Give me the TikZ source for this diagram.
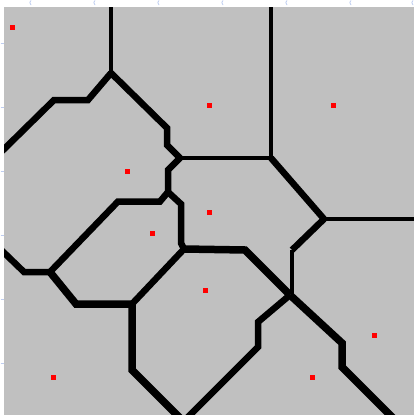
\documentclass[tikz,border=0pt]{standalone}
\definecolor{bggray}{RGB}{192,192,192}
\definecolor{tickblue}{RGB}{190,205,240}
\begin{document}
\begin{tikzpicture}[x=1pt,y=-1pt,
  edge/.style={draw=black,line width=6.5pt,line join=miter},
  thinedge/.style={draw=black,line width=4pt},
  thickedge/.style={draw=black,line width=7.5pt,line join=miter},
  site/.style={rectangle,fill=red,draw=none,minimum size=5pt,inner sep=0pt},
  tick/.style={draw=tickblue,line width=0.8pt}]
\useasboundingbox (0,0) rectangle (414,415);
\fill[white] (0,0) rectangle (414,415);
\fill[bggray] (4,7) rectangle (414,415);
% faint ticks
\foreach \yy in {43,107,171,235,299,363} \draw[tick] (0.5,\yy) -- (3.5,\yy);
\foreach \xx in {30,94,158,222,286,350,412} \draw[tick] (\xx+1,0.5) .. controls (\xx-0.5,2) .. (\xx+1,5);
\begin{scope}
\clip (4,7) rectangle (414,415);
% junction coordinates
\coordinate (J1) at (111,73);
\coordinate (J2) at (180,158);
\coordinate (J3) at (168,192);
\coordinate (J4) at (184,249);
\coordinate (J5) at (290,295);
\coordinate (J6) at (50,272);
\coordinate (J7) at (271,158);
\coordinate (J8) at (324,219);
\coordinate (J9) at (132,304);
% edges
\draw[thinedge] (111,0) -- (J1);
\draw[edge] (J1) -- (88,100) -- (54,100) -- (-6,159);
\draw[edge] (J1) -- (167,128) -- (167,145) -- (J2);
\draw[thinedge] (J2) -- (J7);
\draw[thinedge] (271,0) -- (J7);
\draw[edge] (J7) -- (J8);
\draw[thinedge] (J8) -- (420,219);
\draw[edge] (J8) -- (292,250);
\draw[thinedge] (292,250) -- (292,294);
\draw[edge] (J2) -- (168,170) -- (168,188) -- (J3);
\draw[edge] (J3) -- (160,201.5) -- (118,201.5) -- (J6);
\draw[edge] (J3) -- (181,204) -- (181,243) -- (J4);
\draw[thickedge] (J4) -- (245,250) -- (J5);
\draw[edge] (J4) -- (J9);
\draw[edge] (-6,243) -- (24,272) -- (J6);
\draw[thickedge] (J6) -- (76,304) -- (J9) -- (132,370) -- (182,420);
\draw[edge] (J5) -- (258,322) -- (258,347) -- (185,420);
\draw[thickedge] (J5) -- (342,343) -- (342,367) -- (395,420);
\end{scope}
% sites
\node[site] (s1) at (12,27) {};
\node[site] (s2) at (209,105) {};
\node[site] (s3) at (333,105) {};
\node[site] (s4) at (127,171) {};
\node[site] (s5) at (209,212) {};
\node[site] (s6) at (152,233) {};
\node[site] (s7) at (205,290) {};
\node[site] (s8) at (374,335) {};
\node[site] (s9) at (312,377) {};
\node[site] (s10) at (53,377) {};
\end{tikzpicture}
\end{document}
